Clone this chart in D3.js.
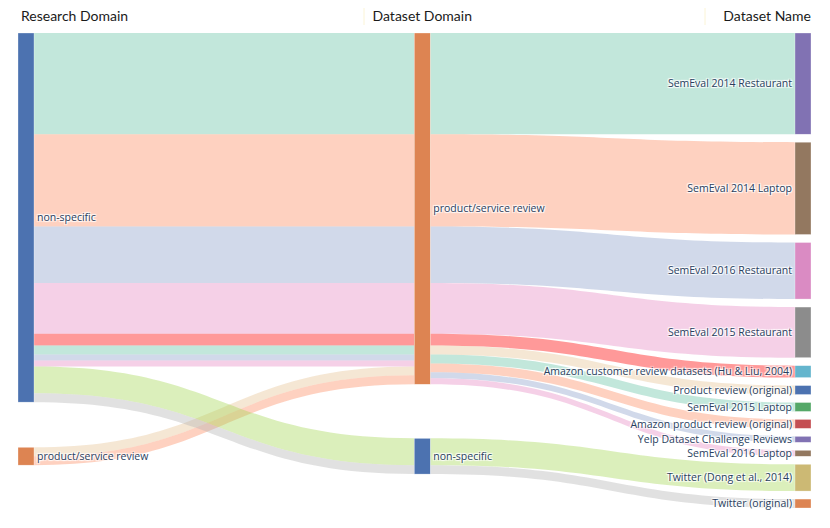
<!DOCTYPE html>
<html><head><meta charset="utf-8">
<script src="https://cdn.jsdelivr.net/npm/d3@7"></script>
<style>
body{margin:0;background:#fff}
.nlabel{font-family:"Open Sans",sans-serif;font-size:10.5px;fill:#2a3f5f;
 text-shadow:1px 1px 1px #fff,1px -1px 1px #fff,-1px 1px 1px #fff,-1px -1px 1px #fff}
.ctitle{font-family:Lato,"Open Sans",sans-serif;font-size:14px;fill:#1a1a1a}
</style>
</head><body>
<svg id="chart" width="830" height="528"></svg>
<script>
// ---------------- data ----------------
const columnTitles = ["Research Domain", "Dataset Domain", "Dataset Name"];
const researchDomains = ["non-specific", "product/service review"];
const datasetDomains = ["product/service review", "non-specific"];
const datasetNames = [
  "SemEval 2014 Restaurant", "SemEval 2014 Laptop", "SemEval 2016 Restaurant",
  "SemEval 2015 Restaurant", "Amazon customer review datasets (Hu & Liu, 2004)",
  "Product review (original)", "SemEval 2015 Laptop", "Amazon product review (original)",
  "Yelp Dataset Challenge Reviews", "SemEval 2016 Laptop",
  "Twitter (Dong et al., 2014)", "Twitter (original)"
];
const datasetCounts = [34, 31, 19, 17, 4, 3, 3, 3, 2, 2, 9, 3];
const datasetResearchDomain = [
  "non-specific", "non-specific", "non-specific", "non-specific", "non-specific",
  "product/service review", "non-specific", "product/service review",
  "non-specific", "non-specific", "non-specific", "non-specific"
];
const datasetDatasetDomain = [
  "product/service review", "product/service review", "product/service review",
  "product/service review", "product/service review", "product/service review",
  "product/service review", "product/service review", "product/service review",
  "product/service review", "non-specific", "non-specific"
];

// ---------------- styles / layout options ----------------
const researchColors = ["#4C72B0", "#DD8452"];
const domainColors = ["#DD8452", "#4C72B0"];
const datasetColors = ["#8172B3", "#937860", "#DA8BC3", "#8C8C8C", "#64B5CD", "#4C72B0",
  "#55A868", "#C44E52", "#8172B3", "#937860", "#CCB974", "#DD8452"];
const linkColors = [
  "rgba(102,194,165,0.4)", "rgba(252,141,98,0.4)", "rgba(141,160,203,0.4)", "rgba(231,138,195,0.4)",
  "rgba(255,0,0,0.4)", "rgba(229,196,148,0.4)", "rgba(102,194,165,0.4)", "rgba(252,141,98,0.4)",
  "rgba(141,160,203,0.4)", "rgba(231,138,195,0.4)", "rgba(166,216,84,0.4)", "rgba(179,179,179,0.4)"
];
// node arrangement (like plotly node.x / node.y: column fraction and node-centre fraction)
const columnFractions = [0, 0.51, 1];
const researchNodeY = [0.388, 0.891];
const domainNodeY = [0.369, 0.891];
const nodeWidth = 16, nodePad = 8;
const ext = {x0: 18, x1: 811, y0: 33, y1: 508};

// ---------------- graph ----------------
const nodes = [];
researchDomains.forEach((n, i) => nodes.push({name: n, col: 0, color: researchColors[i], fy: researchNodeY[i]}));
datasetDomains.forEach((n, i) => nodes.push({name: n, col: 1, color: domainColors[i], fy: domainNodeY[i]}));
datasetNames.forEach((n, i) => nodes.push({name: n, col: 2, color: datasetColors[i]}));
const findNode = (col, name) => nodes.find(n => n.col === col && n.name === name);
const links = [];
datasetNames.forEach((d, i) => links.push({
  source: findNode(0, datasetResearchDomain[i]), target: findNode(1, datasetDatasetDomain[i]),
  value: datasetCounts[i], color: linkColors[i]}));
datasetNames.forEach((d, i) => links.push({
  source: findNode(1, datasetDatasetDomain[i]), target: findNode(2, d),
  value: datasetCounts[i], color: linkColors[i]}));
nodes.forEach(n => { n.sourceLinks = []; n.targetLinks = []; });
links.forEach(l => { l.source.sourceLinks.push(l); l.target.targetLinks.push(l); });
nodes.forEach(n => n.value = Math.max(d3.sum(n.sourceLinks, l => l.value), d3.sum(n.targetLinks, l => l.value)));

// x positions
const xScale = d3.scaleLinear().domain([0, 1]).range([ext.x0, ext.x1 - nodeWidth]);
const yFrac = d3.scaleLinear().domain([0, 1]).range([ext.y0, ext.y1]);
nodes.forEach(n => { n.x0 = xScale(columnFractions[n.col]); n.x1 = n.x0 + nodeWidth; });

// y layout
const columns = [0, 1, 2].map(c => nodes.filter(n => n.col === c));
const ky = d3.min(columns, c => (ext.y1 - ext.y0 - (c.length - 1) * nodePad) / d3.sum(c, n => n.value));
const hScale = d3.scaleLinear().domain([0, 1]).range([0, ky]);
links.forEach(l => l.width = hScale(l.value));
columns.forEach(col => {
  let y = ext.y0;
  col.forEach(n => {
    const h = hScale(n.value);
    if (n.fy !== undefined) {
      n.y0 = Math.max(ext.y0, Math.min(ext.y1 - h, yFrac(n.fy) - h / 2));
    } else {
      n.y0 = y;
    }
    n.y1 = n.y0 + h;
    y = n.y1 + nodePad;
  });
});
nodes.forEach(n => {
  n.sourceLinks.sort((a, b) => a.target.y0 - b.target.y0);
  n.targetLinks.sort((a, b) => a.source.y0 - b.source.y0);
});
nodes.forEach(n => {
  let y0 = n.y0, y1 = n.y0;
  n.sourceLinks.forEach(l => { l.y0 = y0; y0 += l.width; });
  n.targetLinks.forEach(l => { l.y1 = y1; y1 += l.width; });
});

// ---------------- draw ----------------
const svg = d3.select("#chart");
const ribbon = l => {
  const x0 = l.source.x1, x1 = l.target.x0, xm = d3.interpolateNumber(x0, x1)(0.5);
  const p = d3.path();
  p.moveTo(x0, l.y0);
  p.bezierCurveTo(xm, l.y0, xm, l.y1, x1, l.y1);
  p.lineTo(x1, l.y1 + l.width);
  p.bezierCurveTo(xm, l.y1 + l.width, xm, l.y0 + l.width, x0, l.y0 + l.width);
  p.closePath();
  return p.toString();
};
svg.append("g").selectAll("path").data(links).join("path")
  .attr("d", ribbon).attr("fill", d => d.color);
svg.append("g").selectAll("rect").data(nodes).join("rect")
  .attr("x", d => d.x0).attr("y", d => d.y0)
  .attr("width", d => d.x1 - d.x0).attr("height", d => Math.max(1, d.y1 - d.y0))
  .attr("fill", d => d.color).attr("stroke", "rgba(255,255,255,0.6)").attr("stroke-width", 0.5);
svg.append("g").selectAll("text").data(nodes).join("text")
  .attr("class", "nlabel")
  .attr("x", d => d.col < 2 ? d.x1 + 3 : d.x0 - 3)
  .attr("y", d => (d.y0 + d.y1) / 2)
  .attr("dy", "0.35em")
  .attr("text-anchor", d => d.col < 2 ? "start" : "end")
  .text(d => d.name);

// column titles
const titleAnchor = ["start", "middle", "end"];
const titleX = [ext.x0 + 3, xScale(columnFractions[1]) + nodeWidth / 2, ext.x1];
svg.append("g").selectAll("text").data(columnTitles).join("text")
  .attr("class", "ctitle")
  .attr("x", (d, i) => titleX[i]).attr("y", 21)
  .attr("text-anchor", (d, i) => titleAnchor[i])
  .text(d => d);
svg.append("g").selectAll("line").data([364, 705]).join("line")
  .attr("x1", d => d).attr("x2", d => d).attr("y1", 8).attr("y2", 25)
  .attr("stroke", "#fbf4d6").attr("stroke-width", 1);
</script>
</body></html>
